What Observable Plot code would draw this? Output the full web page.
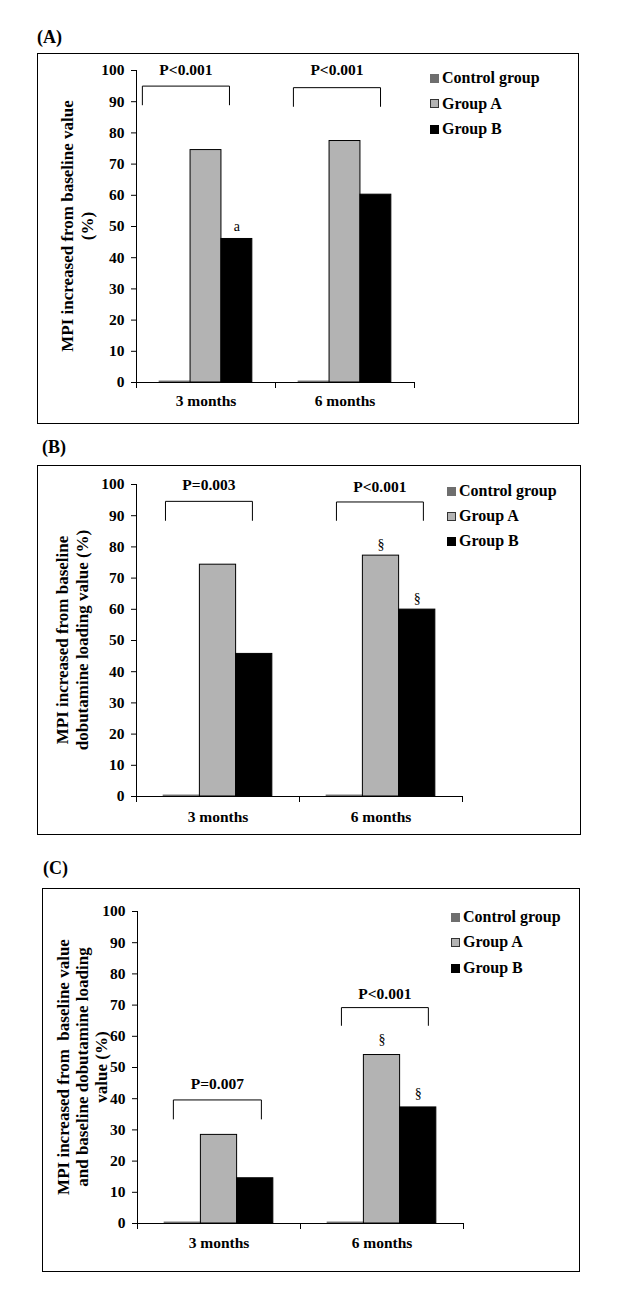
<!DOCTYPE html>
<html>
<head>
<meta charset="utf-8">
<script src="https://cdn.jsdelivr.net/npm/d3@7"></script>
<script src="https://cdn.jsdelivr.net/npm/@observablehq/plot@0.6"></script>
<style>
  body { margin: 0; background: #fff; }
  #root { position: relative; width: 637px; height: 1310px; background: #fff;
          font-family: "Liberation Serif", "Times New Roman", serif; color: #000; }
  .ptitle { position: absolute; font-weight: bold; font-size: 18px; line-height: 1; transform: translateY(-50%); }
  .panel { position: absolute; border: 1px solid #000; box-sizing: border-box; }
  .panel svg { position: absolute; left: 0; top: 0; }
  .ylab { position: absolute; font-weight: bold; font-size: 17px; white-space: pre; text-align: center;
          transform: translate(-50%, -50%) rotate(-90deg); }
  .legend { position: absolute; font-weight: bold; font-size: 16px; }
  .legend .row { position: absolute; left: 0; display: flex; align-items: center; white-space: nowrap; transform: translateY(-50%); }
  .legend .sw { width: 9px; height: 9px; box-sizing: border-box; margin-right: 3px; }
</style>
</head>
<body>
<div id="root"></div>
<script>
// ---------- data ----------
const months = ["3 months", "6 months"];
const groups = ["Control group", "Group A", "Group B"];
const groupColors = ["#6e6e6e", "#b3b3b3", "#000000"];
const yTicks = [0, 10, 20, 30, 40, 50, 60, 70, 80, 90, 100];

// Panel A: MPI increased from baseline value (%)
const aControl = [0.3, 0.3];
const aGroupA = [74.5, 77.4];
const aGroupB = [46.0, 60.2];
const aPLabels = ["P<0.001", "P<0.001"];
const aNotes = [{month: "3 months", group: "Group B", y: 50, text: "a"}];

// Panel B: MPI increased from baseline dobutamine loading value (%)
const bControl = [0.3, 0.3];
const bGroupA = [74.3, 77.2];
const bGroupB = [45.7, 59.9];
const bPLabels = ["P=0.003", "P<0.001"];
const bNotes = [
  {month: "6 months", group: "Group A", y: 80.9, text: "§"},
  {month: "6 months", group: "Group B", y: 63.4, text: "§"}
];

// Panel C: MPI increased from baseline value and baseline dobutamine loading value (%)
const cControl = [0.3, 0.3];
const cGroupA = [28.4, 54.0];
const cGroupB = [14.5, 37.2];
const cPLabels = ["P=0.007", "P<0.001"];
const cNotes = [
  {month: "6 months", group: "Group A", y: 58.9, text: "§"},
  {month: "6 months", group: "Group B", y: 41.6, text: "§"}
];

// ---------- layout ----------
const SERIF = '"Liberation Serif", "Times New Roman", serif';
const panels = [
  {
    title: "(A)", titleX: 37, titleY: 37,
    box: {left: 37, top: 53, width: 542, height: 371},
    margins: {marginLeft: 98, marginRight: 164, marginTop: 16, marginBottom: 41},
    fxPad: 12,
    values: [aControl, aGroupA, aGroupB], pLabels: aPLabels, notes: aNotes,
    pLabelY: [100, 100],
    brackets: [{from: -0.56, to: 2.26, top: 95, bottom: 89}, {from: -0.17, to: 2.65, top: 94.5, bottom: 88.5}],
    ylab: "MPI increased from baseline value\n(%)", ylabX: 78, ylabY: 226, ylabLH: 20,
    legend: {x: 430, ys: [78, 103.5, 129]}
  },
  {
    title: "(B)", titleX: 42, titleY: 447,
    box: {left: 37, top: 465, width: 544, height: 370},
    margins: {marginLeft: 98, marginRight: 118, marginTop: 18, marginBottom: 38},
    fxPad: 14,
    values: [bControl, bGroupA, bGroupB], pLabels: bPLabels, notes: bNotes,
    pLabelY: [99.8, 99.2],
    brackets: [{from: 0.05, to: 2.45, top: 94.6, bottom: 88.5}, {from: 0.27, to: 2.67, top: 94.4, bottom: 88.5}],
    ylab: "MPI increased from baseline\ndobutamine loading value (%)", ylabX: 73, ylabY: 640, ylabLH: 20,
    legend: {x: 447, ys: [491, 516, 541]}
  },
  {
    title: "(C)", titleX: 43, titleY: 868,
    box: {left: 42, top: 888, width: 538, height: 384},
    margins: {marginLeft: 94, marginRight: 116, marginTop: 22, marginBottom: 48},
    fxPad: 13,
    values: [cControl, cGroupA, cGroupB], pLabels: cPLabels, notes: cNotes,
    pLabelY: [44.8, 73.6],
    brackets: [{from: 0.24, to: 2.67, top: 39.6, bottom: 33.5}, {from: 0.38, to: 2.78, top: 69.2, bottom: 63.5}],
    ylab: "MPI increased from  baseline value\nand baseline dobutamine loading\nvalue (%)", ylabX: 82, ylabY: 1067, ylabLH: 19,
    legend: {x: 451, ys: [917, 942, 968]}
  }
];

const root = document.getElementById("root");

function buildPlot(p) {
  const rows = [];
  months.forEach((m, mi) => groups.forEach((g, gi) => rows.push({month: m, group: g, gi, value: p.values[gi][mi]})));
  const bracketPts = [];
  p.brackets.forEach((b, i) => {
    const m = months[i];
    bracketPts.push(
      {id: i, month: m, x: b.from, y: b.bottom},
      {id: i, month: m, x: b.from, y: b.top},
      {id: i, month: m, x: b.to, y: b.top},
      {id: i, month: m, x: b.to, y: b.bottom}
    );
  });
  const pText = p.pLabels.map((t, i) => ({month: months[i], x: (p.brackets[i].from + p.brackets[i].to) / 2, y: p.pLabelY[i], text: t}));
  const notes = p.notes.map(n => ({month: n.month, x: groups.indexOf(n.group) + 0.5, y: n.y, text: n.text}));
  const W = p.box.width - 2, H = p.box.height - 2;
  const innerH = H - p.margins.marginTop - p.margins.marginBottom;
  return Plot.plot({
    width: W, height: H,
    ...p.margins,
    style: {fontFamily: SERIF, fontSize: "15.5px", fontWeight: "bold", color: "#000", background: "#fff", overflow: "visible"},
    fx: {domain: months, padding: 0, axis: "bottom", label: null, tickSize: 0, tickPadding: p.fxPad},
    x: {domain: [-0.75, 3.75], axis: null},
    y: {domain: [0, 100], ticks: yTicks, tickSize: 5, tickPadding: 7, label: null, line: true, tickFormat: d => String(d)},
    color: {domain: groups, range: groupColors},
    marks: [
      Plot.rectY(rows.filter(d => d.gi === 0), {fx: "month", x1: d => d.gi, x2: d => d.gi + 1, y: "value", fill: "group", stroke: groupColors[0], strokeWidth: 1}),
      Plot.rectY(rows.filter(d => d.gi > 0), {fx: "month", x1: d => d.gi, x2: d => d.gi + 1, y: "value", fill: "group", stroke: "#000", strokeWidth: 1}),
      Plot.ruleY([0], {stroke: "#000", strokeWidth: 1}),
      Plot.frame({anchor: "left", insetTop: innerH, insetBottom: -5, stroke: "#000"}),
      Plot.frame({anchor: "right", insetTop: innerH, insetBottom: -5, stroke: "#000"}),
      Plot.line(bracketPts, {fx: "month", x: "x", y: "y", z: "id", stroke: "#000", strokeWidth: 1}),
      Plot.text(pText, {fx: "month", x: "x", y: "y", text: "text", fontSize: 15.5, fontWeight: "bold", fill: "#000"}),
      Plot.text(notes, {fx: "month", x: "x", y: "y", text: "text", fontSize: 14, fontWeight: "normal", fill: "#000"})
    ]
  });
}

panels.forEach(p => {
  const t = document.createElement("div");
  t.className = "ptitle";
  t.textContent = p.title;
  t.style.left = p.titleX + "px";
  t.style.top = p.titleY + "px";
  root.appendChild(t);

  const box = document.createElement("div");
  box.className = "panel";
  Object.assign(box.style, {left: p.box.left + "px", top: p.box.top + "px", width: p.box.width + "px", height: p.box.height + "px"});
  box.appendChild(buildPlot(p));
  root.appendChild(box);

  const yl = document.createElement("div");
  yl.className = "ylab";
  yl.textContent = p.ylab;
  yl.style.left = p.ylabX + "px";
  yl.style.top = p.ylabY + "px";
  yl.style.lineHeight = p.ylabLH + "px";
  root.appendChild(yl);

  const lg = document.createElement("div");
  lg.className = "legend";
  lg.style.left = p.legend.x + "px";
  lg.style.top = "0px";
  groups.forEach((g, i) => {
    const row = document.createElement("div");
    row.className = "row";
    row.style.top = p.legend.ys[i] + "px";
    const sw = document.createElement("span");
    sw.className = "sw";
    sw.style.background = groupColors[i];
    if (i === 1) sw.style.border = "1px solid #333";
    const tx = document.createElement("span");
    tx.textContent = g;
    row.appendChild(sw);
    row.appendChild(tx);
    lg.appendChild(row);
  });
  root.appendChild(lg);
});
</script>
</body>
</html>
